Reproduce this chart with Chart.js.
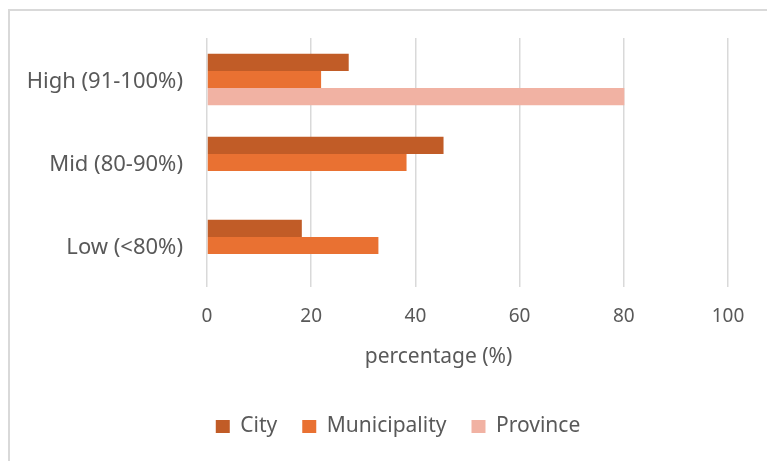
<!DOCTYPE html>
<html>
<head>
<meta charset="utf-8">
<script src="https://cdn.jsdelivr.net/npm/chart.js@4"></script>
<style>
  html, body { margin: 0; padding: 0; background: #fff; }
  #wrap { position: relative; width: 767px; height: 461px; overflow: hidden; }
  #frame { position: absolute; left: 8px; top: 9px; width: 800px; height: 500px;
           border-left: 2px solid #d9d9d9; border-top: 2px solid #d9d9d9; }
  #xTitle { position: absolute; top: 341px; left: 0; width: 877px; text-align: center;
            font: 21px "Noto Sans", sans-serif; color: #595959; }
  canvas { position: absolute; left: 0; top: 0; }
</style>
</head>
<body>
<div id="wrap">
  <div id="frame"></div>
  <canvas id="barChart" width="767" height="461"></canvas>
  <div id="xTitle">percentage (%)</div>
</div>
<script>
// categories and series
var categories = ['High (91-100%)', 'Mid (80-90%)', 'Low (<80%)'];
var city = [27.2, 45.4, 18.2];
var municipality = [21.9, 38.3, 32.9];
var province = [80.1, null, null];
var xTicks = [0, 20, 40, 60, 80, 100];

var textColor = '#595959';
var fontFamily = '"Noto Sans", sans-serif';

// legend sits a bit right of the canvas centre in the original
var shiftLegend = {
  id: 'shiftLegend',
  afterLayout: function(chart) {
    chart.legend.left += 34;
    chart.legend.right += 34;
  }
};

var ctx = document.getElementById('barChart').getContext('2d');
new Chart(ctx, {
  type: 'bar',
  data: {
    labels: categories,
    datasets: [
      { label: 'City', data: city, backgroundColor: '#c15c27' },
      { label: 'Municipality', data: municipality, backgroundColor: '#e97132' },
      { label: 'Province', data: province, backgroundColor: '#f1b2a3' }
    ]
  },
  plugins: [shiftLegend],
  options: {
    indexAxis: 'y',
    responsive: false,
    animation: false,
    layout: { padding: { left: 0, right: 39, top: 38, bottom: 14 } },
    datasets: {
      bar: { categoryPercentage: 0.62, barPercentage: 1.0 }
    },
    scales: {
      x: {
        min: 0,
        max: 100,
        afterBuildTicks: function(scale) {
          scale.ticks = xTicks.map(function(v) { return { value: v }; });
        },
        afterFit: function(scale) { scale.height = 104; },
        grid: { color: '#d9d9d9', lineWidth: 1.5, drawTicks: false },
        border: { display: false },
        ticks: { color: textColor, padding: 18, font: { family: fontFamily, size: 19 } }
      },
      y: {
        afterFit: function(scale) { scale.width = 207; },
        grid: { display: false },
        border: { display: false },
        ticks: { color: textColor, padding: 16, labelOffset: 2, font: { family: fontFamily, size: 22 } }
      }
    },
    plugins: {
      legend: {
        position: 'bottom',
        labels: {
          color: textColor,
          boxWidth: 14,
          boxHeight: 13,
          padding: 25,
          font: { family: fontFamily, size: 21 }
        }
      },
      tooltip: { enabled: false }
    }
  }
});
</script>
</body>
</html>
